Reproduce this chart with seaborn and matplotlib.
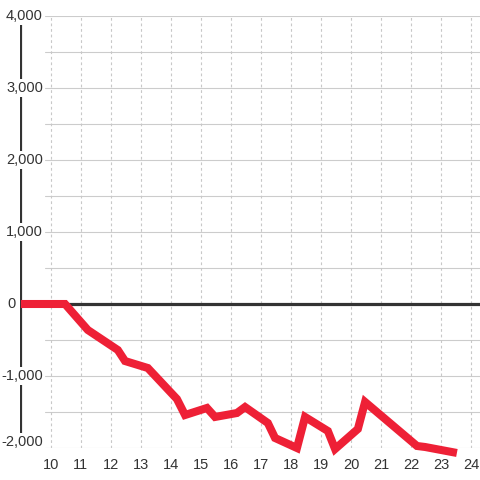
import matplotlib
matplotlib.use('Agg')
import matplotlib.pyplot as plt
import seaborn as sns
import pandas as pd

# values
hours = [9.0, 10.47, 11.23, 12.23, 12.47, 13.23, 14.2, 14.47, 15.2, 15.47,
         16.2, 16.47, 17.23, 17.47, 18.2, 18.47, 19.23, 19.47, 20.23, 20.47,
         22.2, 22.47, 23.53]
values = [0, 0, -361, -639, -792, -889, -1320, -1542, -1444, -1569,
          -1514, -1431, -1653, -1861, -2000, -1569, -1764, -2014, -1736, -1361,
          -1972, -1986, -2069]
x_ticks = list(range(10, 25))
y_ticks = [-2000, -1000, 0, 1000, 2000, 3000, 4000]
y_labels = ['-2,000', '-1,000', '0', '1,000', '2,000', '3,000', '4,000']

df = pd.DataFrame({'hour': hours, 'value': values})

sns.set_style('white')
plt.rcParams['font.family'] = ['Liberation Sans', 'DejaVu Sans']
text_color = '#333333'

fig = plt.figure(figsize=(4.8, 4.8), dpi=100)
ax = fig.add_axes([20 / 480, 32 / 480, 460 / 480, 432 / 480])
ax.set_xlim(8.97, 24.3)
ax.set_ylim(-2000, 4000)

# gridlines
for v in range(-2000, 4001, 500):
    ax.axhline(v, xmin=0.054, xmax=1, color='#cccccc', lw=0.8, zorder=0)
for h in x_ticks:
    ax.axvline(h, color='#c8c8c8', lw=0.8, ls=(0, (2.5, 2.5)), zorder=0)

# custom spine and zero line
ax.axvline(8.97, color=text_color, lw=2.3, zorder=1)
ax.axhline(0, color=text_color, lw=2.3, zorder=1)

sns.lineplot(data=df, x='hour', y='value', ax=ax, color='#ee2036', lw=5.8,
             sort=False, estimator=None, zorder=3)
line = ax.lines[-1]
line.set_solid_joinstyle('miter')
line.set_solid_capstyle('butt')
line.set_clip_on(False)

for s in ax.spines.values():
    s.set_visible(False)

ax.set_xticks(x_ticks)
ax.set_xticklabels([str(t) for t in x_ticks])
ax.tick_params(axis='x', length=0, pad=7, labelsize=10.5, labelcolor=text_color)
ax.set_yticks([])
ax.set_xlabel('')
ax.set_ylabel('')

for v, lab in zip(y_ticks, y_labels):
    xpos = 0.05 if lab != '0' else -0.009
    ypos = v if v != -2000 else -1910
    ax.text(xpos, ypos, lab, transform=ax.get_yaxis_transform(), ha='right',
            va='center', fontsize=10.5, color=text_color, zorder=4,
            bbox=dict(facecolor='white', edgecolor='none', pad=1.2))

fig.savefig('out.png', dpi=100)
